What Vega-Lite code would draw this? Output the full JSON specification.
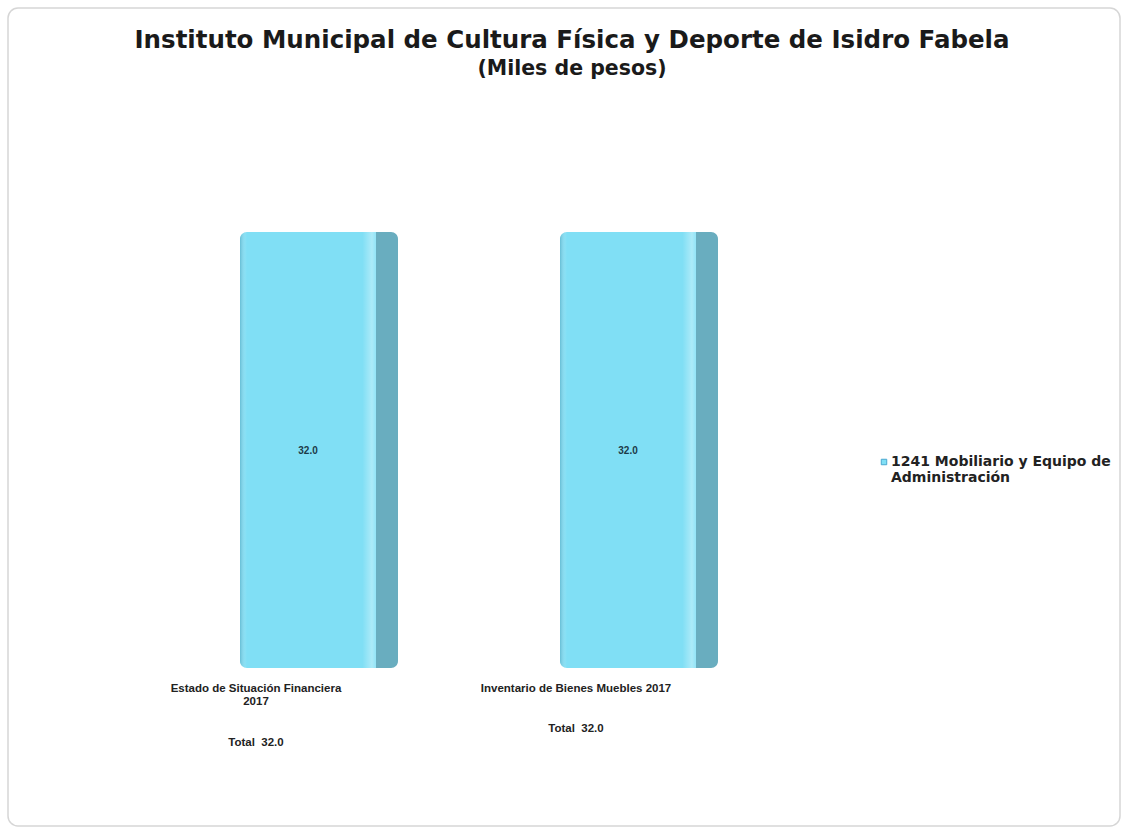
{
  "$schema": "https://vega.github.io/schema/vega-lite/v6.json",
  "width": 1112,
  "height": 818,
  "autosize": {"type": "none"},
  "padding": {"left": 8, "top": 8, "right": 9, "bottom": 9},
  "background": "white",
  "config": {
    "view": {"stroke": "#d6d6d6", "strokeWidth": 1.5, "cornerRadius": 10},
    "font": "Liberation Sans"
  },
  "title": {
    "text": "Instituto Municipal de Cultura Física y Deporte de Isidro Fabela",
    "subtitle": "(Miles de pesos)",
    "anchor": "middle",
    "dx": 8,
    "font": "DejaVu Sans",
    "fontSize": 24.5,
    "fontWeight": "bold",
    "color": "#1a1a1a",
    "subtitleFont": "DejaVu Sans",
    "subtitleFontSize": 20.5,
    "subtitleFontWeight": "bold",
    "subtitleColor": "#1a1a1a",
    "subtitlePadding": 5,
    "offset": -72
  },
  "data": {
    "values": [
      {"etiqueta": "Estado de Situación Financiera\n2017\n\u200b\n\u200b\nTotal\u00a0 32.0", "valor": 32.0, "serie": "1241 Mobiliario y Equipo de\nAdministración"},
      {"etiqueta": "Inventario de Bienes Muebles 2017\n\u200b\n\u200b\nTotal\u00a0 32.0", "valor": 32.0, "serie": "1241 Mobiliario y Equipo de\nAdministración"}
    ]
  },
  "encoding": {
    "x": {
      "field": "etiqueta",
      "type": "nominal",
      "sort": null,
      "title": null,
      "scale": {"range": [140, 780], "paddingInner": 0, "paddingOuter": 0},
      "axis": {
        "orient": "bottom",
        "offset": -158,
        "domain": false,
        "ticks": false,
        "labelAngle": 0,
        "labelPadding": 14,
        "labelOffset": -52,
        "labelFont": "Liberation Sans",
        "labelFontSize": 11.5,
        "labelFontWeight": "bold",
        "labelColor": "#222222",
        "labelLineHeight": 13.5,
        "labelLimit": 400,
        "labelExpr": "split(datum.label, '\\n')"
      }
    },
    "y": {
      "field": "valor",
      "type": "quantitative",
      "scale": {"domain": [0, 32], "range": [660, 224]},
      "axis": null
    }
  },
  "layer": [
    {
      "mark": {"type": "bar", "width": 136, "cornerRadiusTopLeft": 7, "cornerRadiusBottomLeft": 7},
      "encoding": {
        "color": {
          "field": "serie",
          "type": "nominal",
          "scale": {"range": ["#80dff5"]},
          "legend": {
            "orient": "none",
            "legendX": 869,
            "legendY": 447,
            "title": null,
            "symbolType": "square",
            "symbolSize": 30,
            "symbolStrokeColor": "#4aa8d0",
            "symbolStrokeWidth": 1,
            "labelFont": "DejaVu Sans",
            "labelFontSize": 14,
            "labelFontWeight": "bold",
            "labelColor": "#222222",
            "labelLineHeight": 16,
            "labelLimit": 300,
            "labelOffset": 0,
            "labelExpr": "split(datum.label, '\\n')"
          }
        }
      }
    },
    {
      "mark": {
        "type": "bar",
        "width": 136,
        "cornerRadiusTopLeft": 7,
        "cornerRadiusBottomLeft": 7,
        "fill": {
          "gradient": "linear",
          "x1": 0, "y1": 0, "x2": 1, "y2": 0,
          "stops": [
            {"offset": 0, "color": "rgba(70,150,175,0.45)"},
            {"offset": 0.05, "color": "rgba(255,255,255,0.0)"},
            {"offset": 0.9, "color": "rgba(255,255,255,0.0)"},
            {"offset": 0.97, "color": "rgba(255,255,255,0.35)"},
            {"offset": 1, "color": "rgba(255,255,255,0.15)"}
          ]
        }
      }
    },
    {
      "mark": {"type": "bar", "width": 22, "xOffset": 79, "color": "#69adbf", "cornerRadiusTopRight": 7, "cornerRadiusBottomRight": 7}
    },
    {
      "mark": {"type": "text", "yOffset": 219, "font": "Liberation Sans", "fontSize": 10, "fontWeight": "bold", "color": "#1d3a48"},
      "encoding": {"text": {"field": "valor", "type": "quantitative", "format": ".1f"}}
    }
  ]
}
